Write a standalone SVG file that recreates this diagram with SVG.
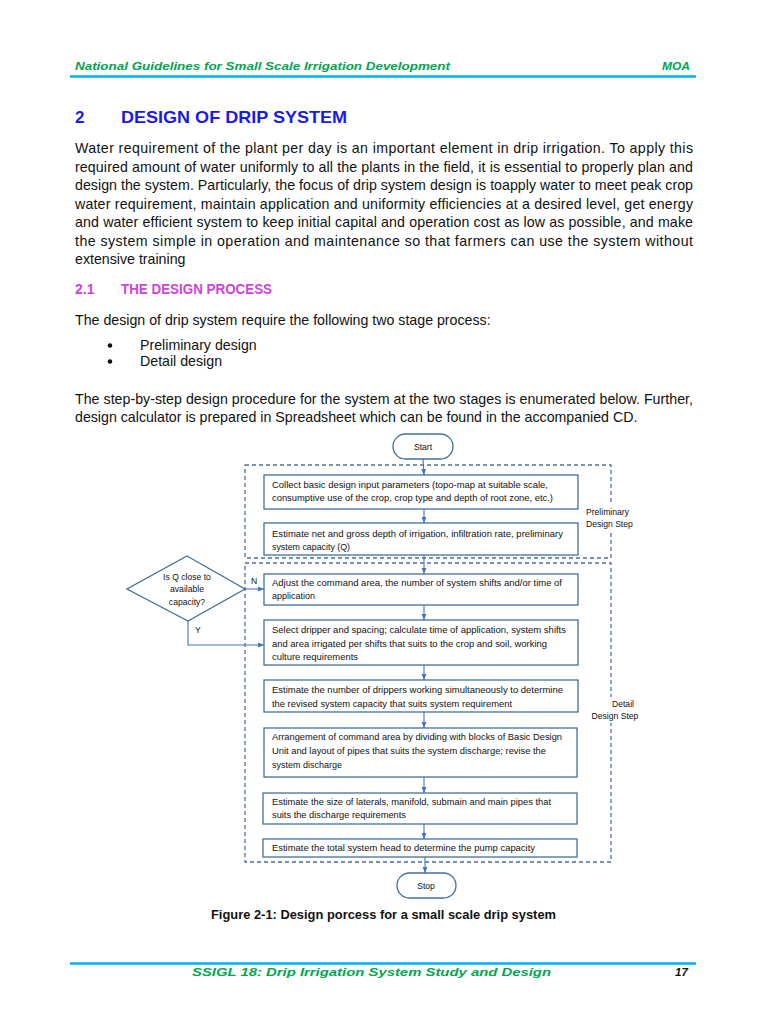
<svg xmlns="http://www.w3.org/2000/svg" width="768" height="1024" viewBox="0 0 768 1024">
<defs>
<style>
.hdr{font-family:"Liberation Sans",Arial,sans-serif;font-weight:bold;font-style:italic;fill:#00A650;font-size:11.5px}
.body{font-family:"Liberation Sans",Arial,sans-serif;font-size:14.2px;fill:#111}
.h1{font-family:"Liberation Sans",Arial,sans-serif;font-weight:bold;font-size:17px;fill:#1A1AE6}
.h2{font-family:"Liberation Sans",Arial,sans-serif;font-weight:bold;font-size:14px;fill:#CC44DD}
.cap{font-family:"Liberation Sans",Arial,sans-serif;font-weight:bold;font-size:13px;fill:#111}
.box{fill:#fff;stroke:#41719C;stroke-width:1.3}
.dash{fill:none;stroke:#4F6E9F;stroke-width:1.3;stroke-dasharray:4 3}
.t{font-family:"Liberation Sans",Arial,sans-serif;font-size:8.6px;fill:#111}
.tc{font-family:"Liberation Sans",Arial,sans-serif;font-size:8.6px;fill:#111;text-anchor:middle}
.con{fill:none;stroke:#4472C4;stroke-width:1.1}
</style>
<marker id="ah" viewBox="0 0 10 10" refX="10" refY="5" markerWidth="6" markerHeight="6" orient="auto" markerUnits="userSpaceOnUse">
<path d="M0,1 L10,5 L0,9 z" fill="#4472C4"/>
</marker>
</defs>
<rect width="768" height="1024" fill="#fff"/>

<!-- Header -->
<g id="header">
<text class="hdr" x="75" y="70" textLength="375" lengthAdjust="spacingAndGlyphs">National Guidelines for Small Scale Irrigation Development</text>
<text class="hdr" x="662" y="70" textLength="28" lengthAdjust="spacingAndGlyphs">MOA</text>
<line x1="70" y1="76.5" x2="696" y2="76.5" stroke="#00B0F0" stroke-width="2.5"/>
</g>

<!-- Section title -->
<g id="title">
<text class="h1" x="75" y="123">2</text>
<text class="h1" x="121" y="123" textLength="226" lengthAdjust="spacingAndGlyphs">DESIGN OF DRIP SYSTEM</text>
</g>

<g id="para1">
<text class="body" x="75" y="153" textLength="618" lengthAdjust="spacing">Water requirement of the plant per day is an important element in drip irrigation. To apply this</text>
<text class="body" x="75" y="171.5" textLength="618" lengthAdjust="spacing">required amount of water uniformly to all the plants in the field, it is essential to properly plan and</text>
<text class="body" x="75" y="190" textLength="618" lengthAdjust="spacing">design the system. Particularly, the focus of drip system design is toapply water to meet peak crop</text>
<text class="body" x="75" y="208.5" textLength="618" lengthAdjust="spacing">water requirement, maintain application and uniformity efficiencies at a desired level, get energy</text>
<text class="body" x="75" y="227" textLength="618" lengthAdjust="spacing">and water efficient system to keep initial capital and operation cost as low as possible, and make</text>
<text class="body" x="75" y="245.5" textLength="618" lengthAdjust="spacing">the system simple in operation and maintenance so that farmers can use the system without</text>
<text class="body" x="75" y="264">extensive training</text>
</g>

<g id="subtitle">
<text class="h2" x="75" y="294">2.1</text>
<text class="h2" x="121" y="294" font-size="13" textLength="151" lengthAdjust="spacingAndGlyphs">THE DESIGN PROCESS</text>
</g>

<g id="para2">
<text class="body" x="75" y="325">The design of drip system require the following two stage process:</text>
<circle cx="110" cy="345.5" r="2.3" fill="#111"/>
<text class="body" x="140" y="350">Preliminary design</text>
<circle cx="110" cy="361.5" r="2.3" fill="#111"/>
<text class="body" x="140" y="366">Detail design</text>
<text class="body" x="75" y="404" textLength="618" lengthAdjust="spacing">The step-by-step design procedure for the system at the two stages is enumerated below. Further,</text>
<text class="body" x="75" y="422">design calculator is prepared in Spreadsheet which can be found in the accompanied CD.</text>
</g>

<!-- Flowchart -->
<g id="stage-preliminary">
<rect class="dash" x="245" y="465" width="366" height="93"/>
<rect x="584" y="505" width="52" height="26" fill="#fff"/>
<text class="t" x="586" y="515">Preliminary</text>
<text class="t" x="586" y="527">Design Step</text>
</g>
<g id="stage-detail">
<rect class="dash" x="245" y="563" width="366" height="299"/>
<rect x="590" y="697" width="52" height="26" fill="#fff"/>
<text class="tc" x="623" y="707">Detail</text>
<text class="tc" x="615" y="719">Design Step</text>
</g>

<g id="connectors">
<line class="con" x1="423" y1="459" x2="424" y2="475" marker-end="url(#ah)"/>
<line class="con" x1="424" y1="509" x2="424" y2="523" marker-end="url(#ah)"/>
<line class="con" x1="424" y1="555" x2="424" y2="574" marker-end="url(#ah)"/>
<line class="con" x1="424" y1="605" x2="424" y2="620" marker-end="url(#ah)"/>
<line class="con" x1="424" y1="665" x2="424" y2="680" marker-end="url(#ah)"/>
<line class="con" x1="424" y1="712" x2="424" y2="728" marker-end="url(#ah)"/>
<line class="con" x1="424" y1="777" x2="424" y2="793" marker-end="url(#ah)"/>
<line class="con" x1="424" y1="824" x2="424" y2="839" marker-end="url(#ah)"/>
<line class="con" x1="425" y1="857" x2="425" y2="873" marker-end="url(#ah)"/>
<line class="con" x1="245" y1="589" x2="264" y2="589" marker-end="url(#ah)"/>
<polyline class="con" points="188,621 188,645 264,645" marker-end="url(#ah)"/>
<text class="t" x="251" y="584">N</text>
<text class="t" x="195" y="633">Y</text>
</g>

<g id="start">
<rect class="box" x="393" y="434" width="60" height="25" rx="12.5"/>
<text class="tc" x="423" y="450">Start</text>
</g>

<g id="collect">
<rect class="box" x="264" y="475" width="314" height="34"/>
<text class="t" x="272" y="488" textLength="276" lengthAdjust="spacingAndGlyphs">Collect basic design input parameters (topo-map at suitable scale,</text>
<text class="t" x="272" y="501" textLength="281" lengthAdjust="spacingAndGlyphs">consumptive use of the crop, crop type and depth of root zone, etc.)</text>
</g>

<g id="estimate-depth">
<rect class="box" x="264" y="523" width="314" height="32"/>
<text class="t" x="272" y="537" textLength="291" lengthAdjust="spacingAndGlyphs">Estimate net and gross depth of irrigation, infiltration rate, preliminary</text>
<text class="t" x="272" y="550" textLength="78" lengthAdjust="spacingAndGlyphs">system capacity (Q)</text>
</g>

<g id="decision">
<polygon class="box" points="187,556 245,589 188,621 127,589"/>
<text class="tc" x="187" y="580">Is Q close to</text>
<text class="tc" x="187" y="592">available</text>
<text class="tc" x="187" y="605">capacity?</text>
</g>

<g id="adjust">
<rect class="box" x="264" y="574" width="314" height="31"/>
<text class="t" x="272" y="586" textLength="290" lengthAdjust="spacingAndGlyphs">Adjust the command area, the number of system shifts and/or time of</text>
<text class="t" x="272" y="599" textLength="43" lengthAdjust="spacingAndGlyphs">application</text>
</g>

<g id="select">
<rect class="box" x="264" y="620" width="314" height="45"/>
<text class="t" x="272" y="633" textLength="294" lengthAdjust="spacingAndGlyphs">Select dripper and spacing; calculate time of application, system shifts</text>
<text class="t" x="272" y="647" textLength="275" lengthAdjust="spacingAndGlyphs">and area irrigated per shifts that suits to the crop and soil, working</text>
<text class="t" x="272" y="660" textLength="86" lengthAdjust="spacingAndGlyphs">culture requirements</text>
</g>

<g id="estimate-drippers">
<rect class="box" x="264" y="680" width="314" height="32"/>
<text class="t" x="272" y="693" textLength="291" lengthAdjust="spacingAndGlyphs">Estimate the number of drippers working simultaneously to determine</text>
<text class="t" x="272" y="707" textLength="240" lengthAdjust="spacingAndGlyphs">the revised system capacity that suits system requirement</text>
</g>

<g id="arrangement">
<rect class="box" x="264" y="728" width="313" height="49"/>
<text class="t" x="272" y="740" textLength="290" lengthAdjust="spacingAndGlyphs">Arrangement of command area by dividing with blocks of Basic Design</text>
<text class="t" x="272" y="754" textLength="274" lengthAdjust="spacingAndGlyphs">Unit and layout of pipes that suits the system discharge; revise the</text>
<text class="t" x="272" y="768" textLength="70" lengthAdjust="spacingAndGlyphs">system discharge</text>
</g>

<g id="estimate-size">
<rect class="box" x="263" y="793" width="314" height="31"/>
<text class="t" x="272" y="805" textLength="279" lengthAdjust="spacingAndGlyphs">Estimate the size of laterals, manifold, submain and main pipes that</text>
<text class="t" x="272" y="818" textLength="134" lengthAdjust="spacingAndGlyphs">suits the discharge requirements</text>
</g>

<g id="estimate-head">
<rect class="box" x="263" y="839" width="314" height="18"/>
<text class="t" x="272" y="851" textLength="263" lengthAdjust="spacingAndGlyphs">Estimate the total system head to determine the pump capacity</text>
</g>

<g id="stop">
<rect class="box" x="397" y="873" width="59" height="25" rx="12.5"/>
<text class="tc" x="426" y="889">Stop</text>
</g>

<g id="caption">
<text class="cap" x="211" y="919" textLength="345" lengthAdjust="spacingAndGlyphs">Figure 2-1: Design porcess for a small scale drip system</text>
</g>

<g id="footer">
<line x1="70" y1="963.5" x2="696" y2="963.5" stroke="#00B0F0" stroke-width="2.5"/>
<text class="hdr" x="192" y="976" textLength="359" lengthAdjust="spacingAndGlyphs">SSIGL 18:  Drip Irrigation System Study and Design</text>
<text class="hdr" x="675" y="976" style="fill:#111">17</text>
</g>
</svg>
